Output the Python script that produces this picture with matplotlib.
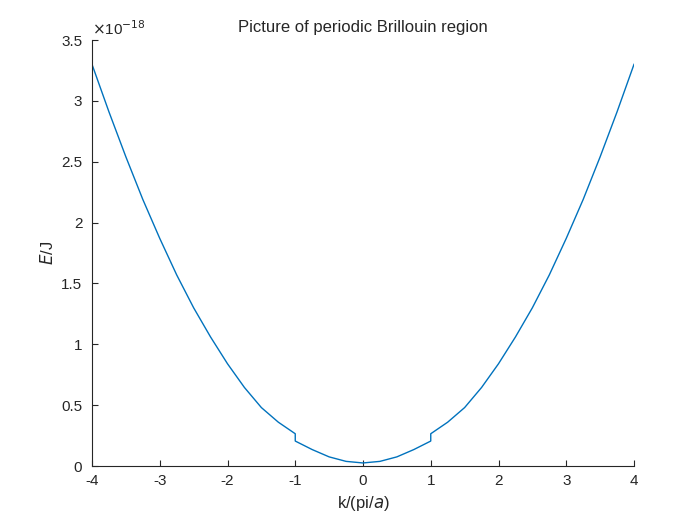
import matplotlib.pyplot as plt
import numpy as np

plt.rcParams['font.family'] = ['Liberation Sans', 'DejaVu Sans']
plt.rcParams['axes.unicode_minus'] = False

# half-curve for k >= 0 (energy in units of 1e-18 J); mirrored for k < 0
k_half = [0.0, 0.25, 0.5, 0.75, 1.0, 1.0, 1.25, 1.5, 1.75, 2.0, 2.25, 2.5,
          2.75, 3.0, 3.25, 3.5, 3.75, 4.0]
e_half = [0.025, 0.038, 0.075, 0.135, 0.205, 0.265, 0.36, 0.48, 0.645, 0.84,
          1.06, 1.30, 1.57, 1.87, 2.19, 2.54, 2.91, 3.30]

k = np.concatenate([-np.array(k_half[::-1]), np.array(k_half[1:])])
e = np.concatenate([np.array(e_half[::-1]), np.array(e_half[1:])]) * 1e-18

fig = plt.figure(figsize=(7, 5.25), dpi=100)
ax = fig.add_axes([92 / 700, 1 - 466 / 525, 542 / 700, 426 / 525])
ax.plot(k, e, color='#0072BD', linewidth=1.0)
ax.set_xlim(-4, 4)
ax.set_ylim(0, 3.5e-18)
ax.set_xticks(range(-4, 5))
ax.set_yticks(np.arange(0, 3.51, 0.5) * 1e-18)
ax.set_yticklabels(['0', '0.5', '1', '1.5', '2', '2.5', '3', '3.5'])
ax.text(0, 1.005, r'$\times$10$^{-18}$', transform=ax.transAxes, fontsize=11,
        va='bottom', ha='left', color='#262626')
for side in ['top', 'right']:
    ax.spines[side].set_visible(False)
for side in ['left', 'bottom']:
    ax.spines[side].set_color('#262626')
ax.tick_params(direction='in', labelsize=11, colors='#262626', length=4)
ax.tick_params(axis='x', pad=6)
ax.tick_params(axis='y', pad=7)
ax.set_xlabel(r'k/(pi/$a$)', fontsize=12, color='#262626')
ax.set_ylabel(r'$E$/J', fontsize=12, color='#262626')
ax.set_title('Picture of periodic Brillouin region', fontsize=12, color='#262626')
fig.savefig('out.png', dpi=100)
